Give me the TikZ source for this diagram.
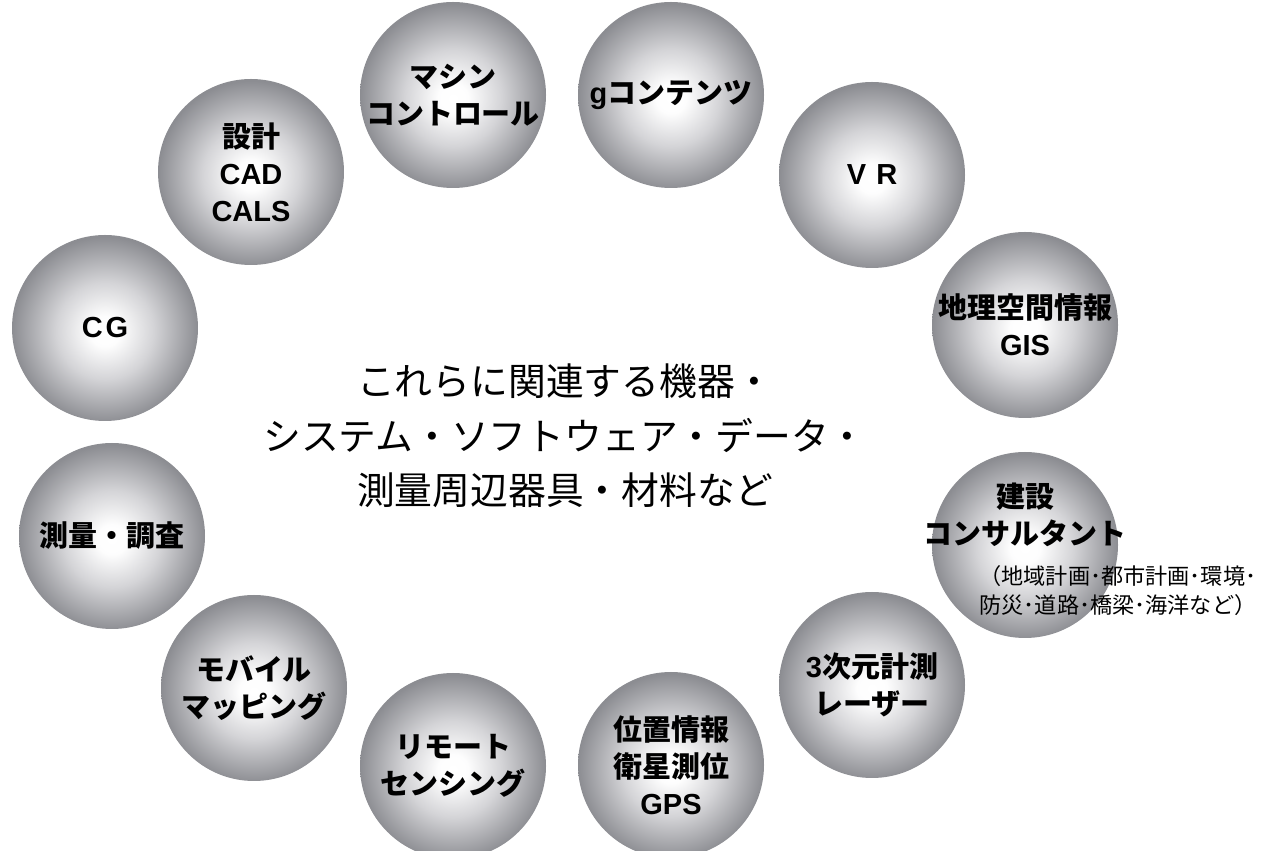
\documentclass[tikz,border=0pt]{standalone}
\usepackage{fontspec}
\setmainfont{Noto Sans CJK JP}
\newfontfamily\latfont{Liberation Sans}
\newcommand{\lat}[1]{{\latfont\bfseries #1}}
\usetikzlibrary{positioning}
\definecolor{sphedge}{RGB}{140,141,146}
\definecolor{sphmid}{RGB}{212,212,215}
\pgfdeclareradialshading{sphere}{\pgfpoint{0bp}{-1bp}}{%
  color(0bp)=(white); color(4bp)=(white!96!sphmid); color(13bp)=(sphmid);
  color(25bp)=(sphedge); color(50bp)=(sphedge)}
\tikzset{
  ball/.style={circle, minimum size=3.72cm, inner sep=0pt, shading=sphere,
    font=\fontsize{16.5}{21}\selectfont\bfseries, align=center, text=black},
  balltext/.style={font=\fontsize{16.5}{21}\selectfont\bfseries, align=center},
  hub/.style={font=\fontsize{21.5}{31}\selectfont, align=center},
  note/.style={font=\fontsize{12.6}{16.5}\selectfont, align=right}
}
\begin{document}
\begin{tikzpicture}
    \useasboundingbox (0,0) rectangle (25.4,17);
    \node[ball] (mc) at (9.06,15.1) {マシン\\コントロール};
    \node[ball] (gc) at (13.42,15.1) {\lat{g}コンテンツ};
    \node[ball] (vr) at (17.44,13.5) {\lat{V\hspace{0.35em}R}};
    \node[ball] (cad) at (5.02,13.56) {設計\\\lat{CAD}\\\lat{CALS}};
    \node[ball] (cg) at (2.1,10.44) {\lat{C\hspace{0.1em}G}};
    \node[ball] (gis) at (20.5,10.5) {地理空間情報\\\lat{GIS}};
    \node[ball] (sv) at (2.24,6.28) {測量・調査};
    \node[ball] (kc) at (20.5,6.1) {};
    \node[balltext] (kct) at ([yshift=0.6cm]kc) {建設\\コンサルタント};
    \node[note, anchor=east] (kcn) at (25.25,5.18) {（地域計画･都市計画･環境･\\防災･道路･橋梁･海洋など）};
    \node[ball] (mm) at (5.08,3.24) {モバイル\\マッピング};
    \node[ball] (ls) at (17.44,3.3) {\lat{3}次元計測\\レーザー};
    \node[ball] (rs) at (9.06,1.68) {リモート\\センシング};
    \node[ball] (gps) at (13.42,1.7) {位置情報\\衛星測位\\\lat{GPS}};
    \node[hub] (hub) at (11.3,8.28) {これらに関連する機器・\\システム・ソフトウェア・データ・\\測量周辺器具・材料など};
\end{tikzpicture}
\end{document}
